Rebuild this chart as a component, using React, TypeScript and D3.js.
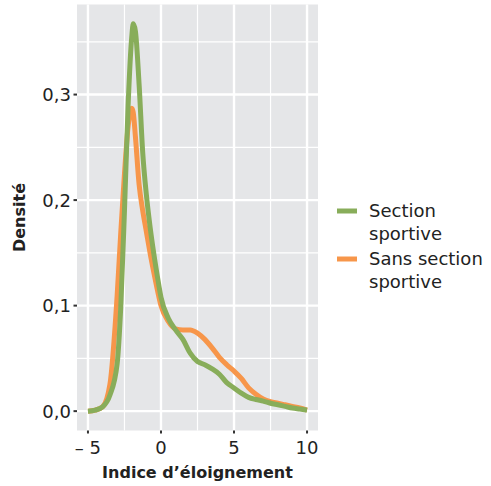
import React from "react";
import * as d3 from "d3";

const xs = [-5, -4.5, -4, -3.5, -3, -2.75, -2.5, -2.25, -2, -1.9, -1.75, -1.5, -1.25, -1, -0.75, -0.5, -0.25, 0, 0.5, 1, 1.5, 2, 2.5, 3, 3.5, 4, 4.5, 5, 5.5, 6, 6.5, 7, 7.5, 8, 8.5, 9, 9.5, 10];
const sectionSportive = [0, 0.001, 0.004, 0.015, 0.045, 0.1, 0.19, 0.29, 0.355, 0.367, 0.36, 0.31, 0.245, 0.205, 0.175, 0.15, 0.128, 0.108, 0.088, 0.077, 0.068, 0.055, 0.047, 0.044, 0.04, 0.035, 0.027, 0.022, 0.017, 0.013, 0.011, 0.0095, 0.0075, 0.006, 0.0045, 0.003, 0.002, 0.001];
const sansSection = [0, 0.001, 0.004, 0.025, 0.11, 0.17, 0.225, 0.27, 0.287, 0.283, 0.26, 0.215, 0.19, 0.17, 0.15, 0.132, 0.115, 0.1, 0.085, 0.078, 0.077, 0.077, 0.074, 0.068, 0.06, 0.051, 0.044, 0.038, 0.031, 0.022, 0.016, 0.0115, 0.009, 0.0075, 0.006, 0.0045, 0.003, 0.001];

const seriesNames = ["Section sportive", "Sans section sportive"];
const legendLines = [["Section", "sportive"], ["Sans section", "sportive"]];
const seriesColors = ["#88ad5a", "#f7964a"];
const xTicks = [-5, 0, 5, 10];
const xTickLabels = ["– 5", "0", "5", "10"];
const yTicks = [0, 0.1, 0.2, 0.3];
const yTickLabels = ["0,0", "0,1", "0,2", "0,3"];
const xMinor = [-2.5, 2.5, 7.5];
const yMinor = [0.05, 0.15, 0.25, 0.35];

const FONT = "'DejaVu Sans', Verdana, sans-serif";

export default function App() {
  const W = 491, H = 486;
  const left = 77, right = 318, top = 4.5, bottom = 430.5;
  const xMin = -5, xMax = 10;
  const xPad = (xMax - xMin) * 0.05;
  const yMax = 0.367;
  const x = d3.scaleLinear().domain([xMin - xPad, xMax + xPad]).range([left, right]);
  const y = d3.scaleLinear().domain([-yMax * 0.05, yMax * 1.05]).range([bottom, top]);

  const line = d3
    .line<number>()
    .x((_, i) => x(xs[i]))
    .y((d) => y(d))
    .curve(d3.curveMonotoneX);

  const seriesData = [sectionSportive, sansSection];
  const drawOrder = [1, 0];

  return (
    <svg width={W} height={H} style={{ position: "absolute", left: 0, top: 0, background: "#fff" }}>
      <rect x={left} y={top} width={right - left} height={bottom - top} fill="#e5e6e8" />
      {xMinor.map((v) => (
        <line key={"xm" + v} x1={x(v)} x2={x(v)} y1={top} y2={bottom} stroke="#fff" strokeWidth={1.2} />
      ))}
      {yMinor.map((v) => (
        <line key={"ym" + v} x1={left} x2={right} y1={y(v)} y2={y(v)} stroke="#fff" strokeWidth={1.2} />
      ))}
      {xTicks.map((v) => (
        <line key={"xM" + v} x1={x(v)} x2={x(v)} y1={top} y2={bottom} stroke="#fff" strokeWidth={2.4} />
      ))}
      {yTicks.map((v) => (
        <line key={"yM" + v} x1={left} x2={right} y1={y(v)} y2={y(v)} stroke="#fff" strokeWidth={2.4} />
      ))}
      {drawOrder.map((k) => (
        <path key={"s" + k} d={line(seriesData[k]) || ""} fill="none" stroke={seriesColors[k]} strokeWidth={5} strokeLinejoin="round" strokeLinecap="butt" />
      ))}
      {yTicks.map((v, i) => (
        <g key={"yt" + v}>
          <line x1={left - 3.5} x2={left} y1={y(v)} y2={y(v)} stroke="#333" strokeWidth={2} />
          <text x={left - 6} y={y(v)} dy="0.36em" textAnchor="end" fontFamily={FONT} fontSize={18} fill="#222">
            {yTickLabels[i]}
          </text>
        </g>
      ))}
      {xTicks.map((v, i) => (
        <g key={"xt" + v}>
          <line x1={x(v)} x2={x(v)} y1={bottom} y2={bottom + 3} stroke="#333" strokeWidth={2} />
          <text x={x(v)} y={454} textAnchor="middle" fontFamily={FONT} fontSize={18} fill="#222">
            {xTickLabels[i]}
          </text>
        </g>
      ))}
      <text x={(left + right) / 2} y={478} textAnchor="middle" fontFamily={FONT} fontSize={16} fontWeight="bold" fill="#222">
        Indice d’éloignement
      </text>
      <text transform={`translate(25, ${(top + bottom) / 2}) rotate(-90)`} textAnchor="middle" fontFamily={FONT} fontSize={16} fontWeight="bold" fill="#222">
        Densité
      </text>
      {seriesNames.map((name, i) => {
        const ly = 211 + i * 48;
        return (
          <g key={"lg" + i}>
            <line x1={337} x2={357} y1={ly} y2={ly} stroke={seriesColors[i]} strokeWidth={5} />
            {legendLines[i].map((w, j) => (
              <text key={j} x={369} y={ly + 6 + j * 23} fontFamily={FONT} fontSize={18} fill="#222">
                {w}
              </text>
            ))}
          </g>
        );
      })}
    </svg>
  );
}
